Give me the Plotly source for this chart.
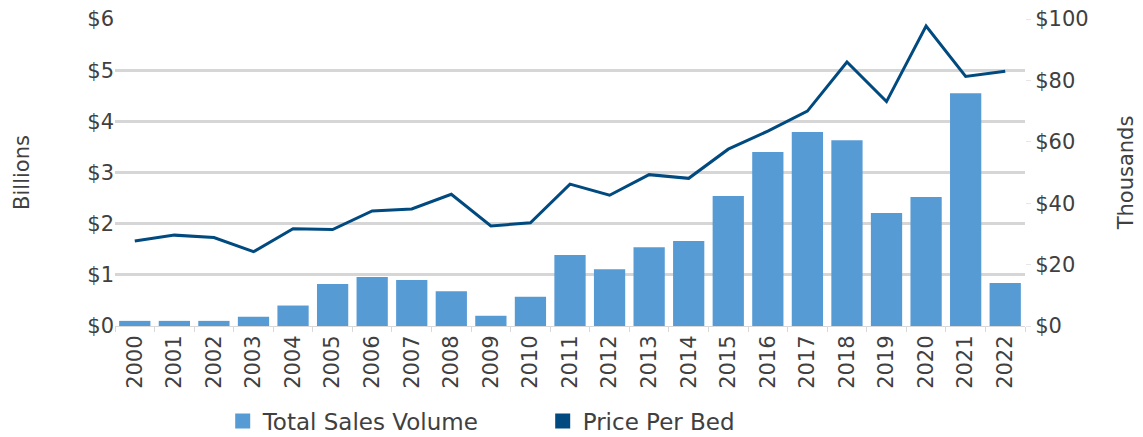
import plotly.graph_objects as go

years = [str(y) for y in range(2000, 2023)]
sales_volume_b = [0.10, 0.10, 0.10, 0.18, 0.40, 0.82, 0.96, 0.90, 0.68, 0.20, 0.57,
                  1.39, 1.11, 1.54, 1.66, 2.54, 3.40, 3.79, 3.63, 2.21, 2.52, 4.55, 0.84]
price_per_bed_k = [27.7, 29.6, 28.8, 24.2, 31.7, 31.4, 37.5, 38.1, 42.9, 32.6, 33.6,
                   46.2, 42.6, 49.3, 48.1, 57.6, 63.5, 70.0, 86.0, 73.1, 97.7, 81.3, 83.0]
left_ticks = [0, 1, 2, 3, 4, 5, 6]
right_ticks = [0, 20, 40, 60, 80, 100]

BAR = "#579BD5"
LINE = "#004A80"
TXT = "#404040"
FONT = "DejaVu Sans"

fig = go.Figure()
fig.add_trace(go.Bar(x=years, y=sales_volume_b, name="Total Sales Volume",
                     marker=dict(color=BAR, line=dict(width=0)), yaxis="y", showlegend=False))
fig.add_trace(go.Scatter(x=years, y=price_per_bed_k, name="Price Per Bed", mode="lines",
                         line=dict(color=LINE, width=3), yaxis="y2", showlegend=False))
fig.add_trace(go.Scatter(x=[None], y=[None], name="Total Sales Volume", mode="markers",
                         marker=dict(color=BAR, symbol="square", size=15), yaxis="y"))
fig.add_trace(go.Scatter(x=[None], y=[None], name="Price Per Bed", mode="markers",
                         marker=dict(color=LINE, symbol="square", size=15), yaxis="y2"))

fig.update_layout(
    width=1143, height=437,
    margin=dict(l=115, r=118, t=19, b=111, autoexpand=False),
    plot_bgcolor="white", paper_bgcolor="white",
    font=dict(family=FONT, color=TXT, size=21),
    bargap=0.21,
    xaxis=dict(type="category", tickangle=-90, tickfont=dict(size=21),
               showgrid=False, showline=True, linecolor="#D9D9D9", linewidth=1,
               ticks="outside", tickson="boundaries", ticklen=5, tickcolor="#D9D9D9"),
    yaxis=dict(range=[0, 6], tickvals=left_ticks,
               ticktext=[f"${v}" for v in left_ticks],
               showgrid=True, gridcolor="#D6D6D6", gridwidth=2.5, zeroline=False,
               title=dict(text="Billions", font=dict(size=21), standoff=51)),
    yaxis2=dict(range=[0, 100], tickvals=right_ticks,
                ticktext=[f"${v}" for v in right_ticks],
                overlaying="y", side="right", showgrid=False, zeroline=False,
                ticks="outside", ticklen=5, tickcolor="#E6E6E6",
                title=dict(text="Thousands", font=dict(size=21), standoff=30)),
    legend=dict(orientation="h", x=0.47, xanchor="center", y=-0.31, yanchor="middle",
                font=dict(size=23), traceorder="normal", itemwidth=30,
                entrywidth=275, entrywidthmode="pixels"),
)

fig.write_html("out.html", config={"displayModeBar": False},
               post_script="document.body.style.margin='0';")
